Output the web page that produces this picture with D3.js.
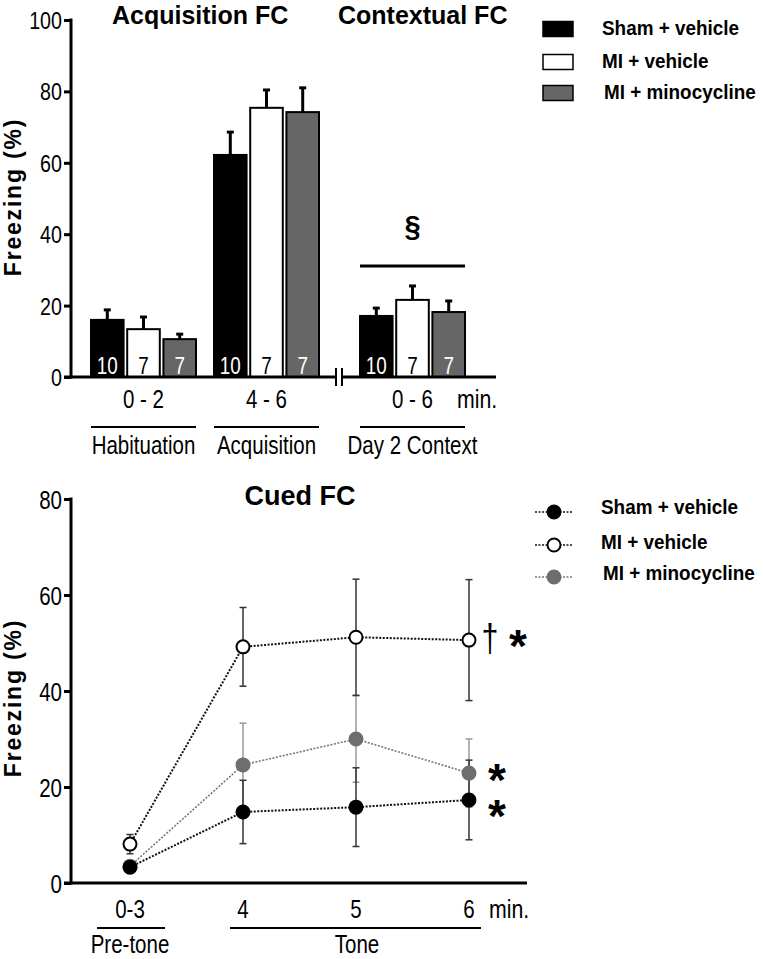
<!DOCTYPE html>
<html><head><meta charset="utf-8">
<script src="https://cdn.jsdelivr.net/npm/d3@7"></script>
<style>
html,body{margin:0;padding:0;background:#fff;}
svg{display:block;}
text{font-family:"Liberation Sans",Arial,sans-serif;}
</style></head>
<body>
<svg id="chart" width="763" height="959"></svg>
<script>
// ---------- DATA ----------
const seriesNames = ["Sham + vehicle", "MI + vehicle", "MI + minocycline"];
// Top panel (bar chart)
const barGroups = ["0 - 2", "4 - 6", "0 - 6"];
const barPhases = ["Habituation", "Acquisition", "Day 2 Context"];
const shamVehicleBar = [16.0, 62.2, 17.1];
const miVehicleBar = [13.4, 75.4, 21.6];
const miMinoBar = [10.6, 74.2, 18.2];
const shamVehicleBarSem = [2.8, 6.4, 2.2];
const miVehicleBarSem = [3.4, 5.0, 3.9];
const miMinoBarSem = [1.4, 6.8, 3.1];
const groupN = [10, 7, 7];
const barTicks = [0, 20, 40, 60, 80, 100];
// Bottom panel (cued FC)
const cuedTimes = ["0-3", "4", "5", "6"];
const shamVehicleCued = [3.3, 14.8, 15.8, 17.3];
const miVehicleCued = [8.1, 49.2, 51.2, 50.6];
const miMinoCued = [3.5, 24.6, 30.0, 22.9];
const shamVehicleCuedSem = [0.6, 6.6, 8.2, 8.3];
const miVehicleCuedSem = [2.0, 8.2, 12.1, 12.6];
const miMinoCuedSem = [0.6, 8.7, 9.0, 7.1];
const cuedTicks = [0, 20, 40, 60, 80];

// ---------- STYLE ----------
const barFill = ["#000000", "#ffffff", "#666666"];
const nColor = ["#ffffff", "#000000", "#ffffff"];
const svg = d3.select("#chart");

// condensed text helper (horizontal squeeze)
function ntext(parent, x, y, str, size, anchor, opts) {
  opts = opts || {};
  const sx = opts.sx || 0.82;
  const t = parent.append("text")
    .attr("transform", `translate(${x},${y}) scale(${sx},1)`)
    .attr("text-anchor", anchor || "start")
    .attr("font-size", size)
    .attr("fill", opts.fill || "#000")
    .text(str);
  if (opts.bold) t.attr("font-weight", "bold");
  return t;
}

// ================= TOP PANEL =================
const yTop = d3.scaleLinear().domain([0, 100]).range([377, 20]);
const groupCenter = d3.scaleOrdinal().domain(barGroups).range([143.5, 266.5, 412.5]);
const inner = d3.scaleBand().domain(seriesNames).range([-52.5, 52.5]).paddingInner(0.1);
const barMeans = [shamVehicleBar, miVehicleBar, miMinoBar];
const barSems = [shamVehicleBarSem, miVehicleBarSem, miMinoBarSem];

const topG = svg.append("g");
const yAxisTop = d3.axisLeft(yTop).tickValues(barTicks).tickSize(7).tickPadding(3);
const gy1 = topG.append("g").attr("transform", "translate(71,0)").call(yAxisTop);
gy1.select(".domain").attr("stroke-width", 3).attr("d", "M0,18.5V378.5");
gy1.selectAll(".tick line").attr("stroke-width", 3);
gy1.selectAll(".tick text").attr("font-size", 24).attr("fill", "#000").attr("font-family", null)
  .attr("x", null).attr("dy", null).attr("transform", "translate(-9,8.5) scale(0.82,1)");

seriesNames.forEach((s, si) => {
  const g = topG.append("g");
  barGroups.forEach((grp, gi) => {
    const x0 = groupCenter(grp) + inner(s);
    const w = inner.bandwidth();
    const v = barMeans[si][gi], e = barSems[si][gi];
    const xc = x0 + w / 2;
    g.append("line").attr("x1", xc).attr("x2", xc).attr("y1", yTop(v)).attr("y2", yTop(v + e))
      .attr("stroke", "#000").attr("stroke-width", 3);
    g.append("line").attr("x1", xc - 3.5).attr("x2", xc + 3.5).attr("y1", yTop(v + e)).attr("y2", yTop(v + e))
      .attr("stroke", "#000").attr("stroke-width", 3);
    g.append("rect").attr("x", x0).attr("y", yTop(v)).attr("width", w).attr("height", yTop(0) - yTop(v))
      .attr("fill", barFill[si]).attr("stroke", "#000").attr("stroke-width", 2);
    ntext(g, xc, 374, groupN[si], 23, "middle", { fill: nColor[si] });
  });
});

topG.append("line").attr("x1", 64).attr("x2", 336).attr("y1", 377).attr("y2", 377).attr("stroke", "#000").attr("stroke-width", 3);
topG.append("line").attr("x1", 342).attr("x2", 496).attr("y1", 377).attr("y2", 377).attr("stroke", "#000").attr("stroke-width", 3);
[336, 342].forEach(x => topG.append("line").attr("x1", x).attr("x2", x).attr("y1", 368).attr("y2", 386).attr("stroke", "#000").attr("stroke-width", 2));

barGroups.forEach((grp, gi) => {
  const c = groupCenter(grp);
  ntext(topG, c, 408, grp, 25, "middle");
  topG.append("line").attr("x1", c - 52.5).attr("x2", c + 52.5).attr("y1", 427).attr("y2", 427).attr("stroke", "#000").attr("stroke-width", 2);
  ntext(topG, c, 454, barPhases[gi], 25, "middle");
});
ntext(topG, 457, 408, "min.", 26, "start");

topG.append("line").attr("x1", groupCenter("0 - 6") - 52.5).attr("x2", groupCenter("0 - 6") + 52.5).attr("y1", 266).attr("y2", 266).attr("stroke", "#000").attr("stroke-width", 3);
topG.append("text").attr("x", groupCenter("0 - 6")).attr("y", 236).attr("text-anchor", "middle")
  .attr("font-family", "Liberation Serif, serif").attr("font-weight", "bold").attr("font-size", 29).text("§");

topG.append("text").attr("font-weight", "bold").attr("x", 112).attr("y", 24).attr("font-size", 25).text("Acquisition FC");
topG.append("text").attr("font-weight", "bold").attr("x", 338).attr("y", 24).attr("font-size", 25).text("Contextual FC");
topG.append("text").attr("font-weight", "bold").attr("transform", "translate(21,197) rotate(-90)").attr("text-anchor", "middle")
  .attr("font-size", 23).attr("letter-spacing", 1.8).text("Freezing (%)");

const legTopY = [29, 62, 93];
seriesNames.forEach((s, si) => {
  topG.append("rect").attr("x", 543).attr("y", legTopY[si] - 7.5).attr("width", 30).attr("height", 15)
    .attr("fill", barFill[si]).attr("stroke", "#000").attr("stroke-width", 1.5);
  ntext(topG, si === 2 ? 604 : 602, legTopY[si] + 6, s, 21, "start", { bold: true, sx: 0.9 });
});

// ================= BOTTOM PANEL =================
const yBot = d3.scaleLinear().domain([0, 80]).range([883, 499]);
const xBot = d3.scalePoint().domain(cuedTimes).range([130, 469]);
const bot = svg.append("g");
const yAxisBot = d3.axisLeft(yBot).tickValues(cuedTicks).tickSize(7).tickPadding(3);
const gy2 = bot.append("g").attr("transform", "translate(71,0)").call(yAxisBot);
gy2.select(".domain").attr("stroke-width", 3).attr("d", "M0,497.5V884.5");
gy2.selectAll(".tick line").attr("stroke-width", 3);
gy2.selectAll(".tick text").attr("font-size", 25).attr("fill", "#000").attr("font-family", null)
  .attr("x", null).attr("dy", null).attr("transform", "translate(-9,9) scale(0.82,1)");
bot.append("line").attr("x1", 64).attr("x2", 527).attr("y1", 883).attr("y2", 883).attr("stroke", "#000").attr("stroke-width", 3);

const cuedMeans = [shamVehicleCued, miVehicleCued, miMinoCued];
const cuedSems = [shamVehicleCuedSem, miVehicleCuedSem, miMinoCuedSem];
const lineColor = ["#111", "#111", "#777"];
const errColor = ["#333", "#333", "#999"];
const markFill = ["#000", "#fff", "#6e6e6e"];
const markStroke = ["#000", "#000", "#6e6e6e"];
const drawOrder = [2, 0, 1];
const lineGen = d3.line().x(d => xBot(d.t)).y(d => yBot(d.v));
drawOrder.forEach(si => {
  const pts = cuedTimes.map((t, i) => ({ t, v: cuedMeans[si][i] }));
  bot.append("path").datum(pts).attr("d", lineGen).attr("fill", "none").attr("stroke", lineColor[si])
    .attr("stroke-width", si === 2 ? 1.6 : 2).attr("stroke-dasharray", "2,1.5");
});
drawOrder.forEach(si => {
  const pts = cuedTimes.map((t, i) => ({ t, v: cuedMeans[si][i], e: cuedSems[si][i] }));
  const g = bot.append("g");
  pts.forEach(p => {
    const x = xBot(p.t);
    g.append("line").attr("x1", x).attr("x2", x).attr("y1", yBot(p.v - p.e)).attr("y2", yBot(p.v + p.e)).attr("stroke", errColor[si]).attr("stroke-width", 1.5);
    [p.v - p.e, p.v + p.e].forEach(v => g.append("line").attr("x1", x - 3.5).attr("x2", x + 3.5).attr("y1", yBot(v)).attr("y2", yBot(v)).attr("stroke", errColor[si]).attr("stroke-width", 1.5));
  });
});
drawOrder.forEach(si => {
  const pts = cuedTimes.map((t, i) => ({ t, v: cuedMeans[si][i] }));
  bot.append("g").selectAll("circle").data(pts).join("circle")
    .attr("cx", d => xBot(d.t)).attr("cy", d => yBot(d.v)).attr("r", 6.5)
    .attr("fill", markFill[si]).attr("stroke", markStroke[si]).attr("stroke-width", 2);
});

cuedTimes.forEach(t => ntext(bot, xBot(t), 918, t, 25, "middle"));
ntext(bot, 489, 918, "min.", 26, "start");
bot.append("line").attr("x1", 97).attr("x2", 165).attr("y1", 928).attr("y2", 928).attr("stroke", "#000").attr("stroke-width", 2);
bot.append("line").attr("x1", 230).attr("x2", 481).attr("y1", 928).attr("y2", 928).attr("stroke", "#000").attr("stroke-width", 2);
ntext(bot, xBot("0-3"), 953, "Pre-tone", 25, "middle");
ntext(bot, 357, 953, "Tone", 25, "middle");

ntext(bot, 490, 651, "†", 38, "middle", { sx: 0.8 });
const starX = [497, 518, 497];
const starY = [807, 637, 771];
[0, 1, 2].forEach(si => bot.append("text").attr("font-weight", "bold").attr("x", starX[si]).attr("y", starY[si] + 25).attr("text-anchor", "middle").attr("font-size", 46).text("*"));

bot.append("text").attr("font-weight", "bold").attr("x", 300).attr("y", 505).attr("text-anchor", "middle").attr("font-size", 27).text("Cued FC");
bot.append("text").attr("font-weight", "bold").attr("transform", "translate(21,698) rotate(-90)").attr("text-anchor", "middle")
  .attr("font-size", 23).attr("letter-spacing", 1.8).text("Freezing (%)");

const legBotY = [512, 545, 577];
const legTextY = [514, 549, 580];
seriesNames.forEach((s, si) => {
  bot.append("line").attr("x1", 535).attr("x2", 573).attr("y1", legBotY[si]).attr("y2", legBotY[si])
    .attr("stroke", lineColor[si]).attr("stroke-width", 1.5).attr("stroke-dasharray", "2,1.5");
  bot.append("circle").attr("cx", 554).attr("cy", legBotY[si]).attr("r", 6.5).attr("fill", markFill[si]).attr("stroke", markStroke[si]).attr("stroke-width", 2);
  ntext(bot, si === 2 ? 603 : 601, legTextY[si], s, 21, "start", { bold: true, sx: 0.9 });
});
</script>
</body></html>
